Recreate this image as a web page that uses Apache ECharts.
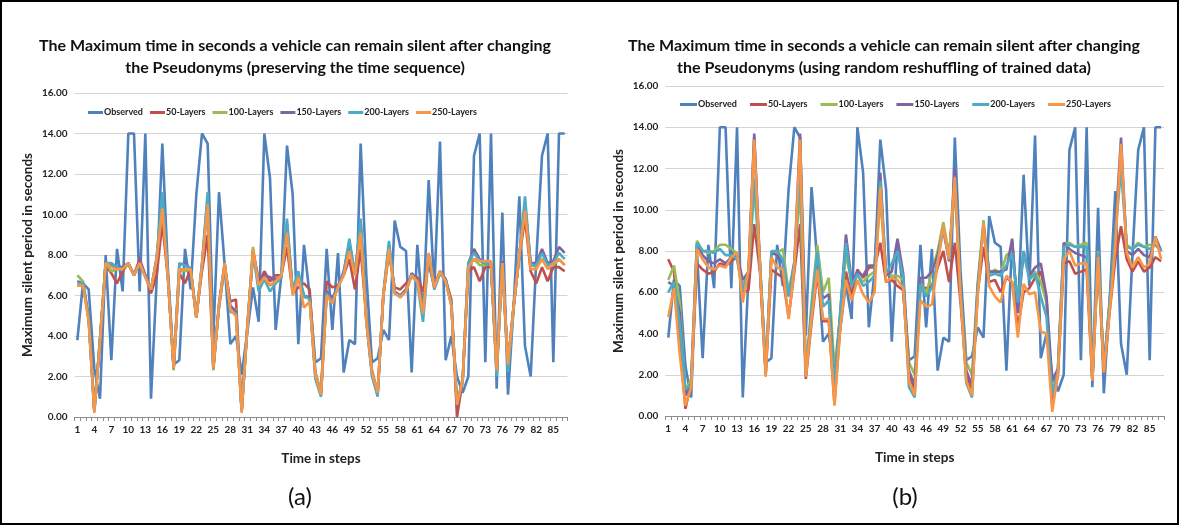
<!DOCTYPE html>
<html><head><meta charset="utf-8">
<script src="https://cdn.jsdelivr.net/npm/echarts@6/dist/echarts.min.js"></script>
<style>html,body{margin:0;padding:0;background:#fff}#c{width:1180px;height:526px}</style>
</head><body><div id="c"></div>
<script>
const steps = ['1','2','3','4','5','6','7','8','9','10','11','12','13','14','15','16','17','18','19','20','21','22','23','24','25','26','27','28','29','30','31','32','33','34','35','36','37','38','39','40','41','42','43','44','45','46','47','48','49','50','51','52','53','54','55','56','57','58','59','60','61','62','63','64','65','66','67','68','69','70','71','72','73','74','75','76','77','78','79','80','81','82','83','84','85','86','87'];
const yTicks = [0,2,4,6,8,10,12,14,16];
const seriesNames = ['Observed','50-Layers','100-Layers','150-Layers','200-Layers','250-Layers'];

const observed = [3.8,6.6,6.3,2.4,0.9,8.0,2.8,8.3,6.2,14,14,6.2,14,0.9,6.8,13.5,7.2,2.6,2.8,8.3,6.3,11.0,14,13.5,3.9,11.1,7.5,3.6,4.0,2.1,4.2,6.4,4.7,14,11.8,4.3,7.0,13.4,11.0,3.6,8.5,6.0,2.7,2.9,8.3,4.3,8.1,2.2,3.8,3.6,13.5,7.0,2.7,2.9,4.3,3.8,9.7,8.4,8.2,2.2,8.5,5.0,11.7,6.3,13.6,2.8,4.0,2.0,1.2,2.0,12.9,14,2.7,14,1.4,10.1,1.1,5.5,10.9,3.5,2.0,7.8,12.9,14,2.7,14,14];

// Panel (a): preserving the time sequence
const a50 = [6.5,6.5,4.9,0.3,3.8,7.5,7.1,6.6,7.2,7.6,7.0,7.8,7.0,6.1,7.0,9.6,6.8,2.5,7.1,6.6,7.3,5.0,7.2,9.0,2.5,5.4,7.4,5.7,5.8,0.3,4.5,8.0,6.6,7.2,6.7,7.0,7.0,8.4,6.1,6.4,6.6,6.3,2.2,1.2,6.7,6.4,6.5,7.0,7.8,6.3,8.3,4.9,2.3,1.2,6.0,8.1,6.4,6.3,6.6,6.9,6.9,6.2,7.6,6.4,7.1,6.8,5.8,0.0,1.8,7.2,7.4,6.7,7.4,7.4,2.4,7.5,2.7,5.5,7.9,9.8,7.2,6.6,7.4,6.7,7.4,7.4,7.2];
const a100 = [7.0,6.7,5.0,0.4,3.9,7.6,7.2,7.3,7.4,7.5,7.1,7.6,7.0,6.3,7.8,10.6,6.9,2.3,7.2,7.2,7.3,4.9,7.5,10.7,2.3,5.5,7.5,5.4,5.3,0.3,4.5,8.4,6.4,6.8,6.5,6.6,6.9,9.4,6.2,6.9,5.9,5.9,2.2,1.2,6.2,5.8,6.4,7.1,8.4,7.1,9.5,4.8,2.2,1.2,6.0,8.4,6.1,6.0,6.3,7.0,6.8,5.3,8.0,6.5,7.2,6.8,5.6,0.7,1.9,7.5,7.8,7.5,7.5,7.6,2.2,7.6,2.5,5.4,8.0,10.5,7.5,7.4,7.8,7.4,7.5,7.8,7.5];
const a150 = [6.7,6.6,4.9,0.3,3.8,7.6,7.5,7.4,7.4,7.6,7.0,7.7,7.0,6.3,7.8,10.8,6.9,2.4,7.5,7.6,7.3,4.9,7.5,10.8,2.4,5.6,7.6,5.5,5.2,0.3,4.4,8.2,6.8,7.0,6.9,6.8,7.0,9.5,6.3,7.0,6.0,5.9,2.0,1.1,6.2,5.9,6.4,7.2,8.6,7.1,9.6,4.8,2.1,1.1,6.0,8.5,6.2,6.0,6.3,7.1,6.8,5.2,8.0,6.5,7.2,6.8,5.6,0.5,1.8,7.6,8.3,7.8,7.6,7.6,2.3,7.7,2.6,5.5,8.0,10.5,7.6,7.6,8.3,7.6,7.7,8.4,8.1];
const a200 = [6.6,6.6,4.8,0.3,3.8,7.6,7.6,7.4,7.3,7.6,7.0,7.6,6.9,6.3,7.9,11.1,6.9,2.4,7.6,7.5,7.3,4.9,7.6,11.1,2.4,5.5,7.6,5.2,5.1,0.3,4.4,8.1,6.2,6.8,6.2,6.6,6.9,9.8,6.2,7.2,6.0,5.8,1.9,1.0,6.1,5.7,6.4,7.1,8.8,7.0,9.8,4.7,2.0,1.0,6.1,8.7,6.1,6.0,6.2,7.0,6.6,4.7,8.0,6.3,7.1,6.7,5.5,0.8,1.7,7.6,8.1,7.7,7.6,7.6,2.0,7.6,2.2,5.4,8.0,10.9,7.5,7.5,8.1,7.5,7.6,8.1,7.8];
const a250 = [6.5,6.5,4.7,0.2,3.7,7.6,7.4,7.3,7.3,7.6,7.0,7.6,6.9,6.3,7.8,10.3,6.8,2.4,7.3,7.3,7.3,4.9,7.5,10.5,2.4,5.5,7.6,5.3,5.0,0.2,4.4,8.3,6.5,6.9,6.5,6.7,7.0,9.1,6.0,6.9,5.4,5.7,2.1,1.1,6.0,5.6,6.4,7.0,8.2,7.0,9.1,4.7,2.2,1.2,6.0,8.3,6.1,5.9,6.2,7.0,6.7,5.1,8.1,6.4,7.2,6.7,5.5,0.6,1.8,7.4,7.8,7.7,7.7,7.7,2.3,7.6,2.6,5.5,8.0,10.2,7.3,7.3,7.8,7.3,7.6,7.8,7.5];

// Panel (b): random reshuffling of trained data
const b50 = [7.6,7.0,3.5,0.35,1.6,7.4,7.1,6.9,7.0,7.4,7.3,7.5,7.7,6.0,6.1,9.3,7.0,2.0,7.1,6.9,6.7,4.8,7.0,9.3,1.8,4.5,6.9,4.6,4.6,0.6,4.3,7.0,5.8,7.1,6.7,7.2,7.2,8.4,6.5,6.6,6.3,6.1,2.0,1.3,6.2,6.2,6.3,7.2,8.0,6.5,8.4,5.5,2.0,1.3,6.0,8.2,6.5,6.6,6.0,6.7,6.5,4.3,6.0,6.2,6.7,7.0,5.7,0.5,2.0,7.4,7.5,6.9,7.0,7.1,1.7,7.6,2.1,5.0,7.6,9.2,7.6,7.0,7.5,7.0,7.2,7.7,7.5];
const b100 = [6.6,7.3,5.5,1.2,1.8,8.5,8.0,7.9,8.0,8.3,8.3,8.1,7.9,6.3,7.0,11.0,7.5,2.2,7.9,7.9,8.1,6.0,7.5,11.0,2.0,5.5,8.3,6.0,6.7,2.3,4.8,7.9,6.4,6.8,6.5,6.8,7.0,10.5,7.0,6.8,6.8,6.6,2.6,2.0,6.5,5.9,7.0,8.0,9.4,7.8,11.0,6.0,2.6,2.0,6.5,9.5,6.9,7.1,6.9,7.8,8.0,5.5,7.8,6.8,7.0,6.5,5.5,1.0,2.4,8.3,8.4,8.2,8.3,8.4,2.0,8.0,2.4,5.5,9.0,12.5,8.3,8.1,8.4,8.2,8.3,8.3,8.0];
const b150 = [6.5,6.3,5.0,1.0,1.6,8.3,7.8,7.5,7.4,7.6,7.4,7.7,7.8,6.6,7.0,13.7,7.3,2.1,7.9,7.8,7.4,5.8,7.4,13.7,2.0,5.0,7.3,5.7,5.9,1.5,5.0,8.8,6.5,7.0,6.8,7.3,7.3,11.8,6.8,7.0,8.6,6.9,2.2,1.5,6.7,6.7,7.0,7.8,9.0,7.5,12.0,6.0,2.2,1.5,6.3,9.2,7.0,7.0,7.0,7.1,8.6,5.0,8.0,6.8,7.2,7.4,5.8,1.7,2.3,8.4,8.1,7.9,7.8,7.7,1.9,7.9,2.3,5.5,9.0,13.5,8.0,7.8,8.1,7.8,7.7,8.7,8.0];
const b200 = [6.0,6.5,4.5,1.3,1.5,8.4,8.0,8.0,7.9,8.1,7.8,7.8,7.6,6.1,7.0,11.5,7.4,2.1,8.0,8.0,7.6,5.8,7.4,12.0,2.0,5.2,8.0,5.3,5.6,1.4,5.0,8.4,6.3,6.9,6.3,6.5,6.8,11.4,6.9,7.4,8.0,6.7,1.4,0.9,6.4,5.8,6.2,7.5,9.1,7.6,11.5,6.0,1.6,0.9,6.2,9.2,6.8,6.9,6.8,7.3,7.9,5.5,8.0,6.6,6.9,5.8,4.8,1.0,2.2,8.2,8.3,8.2,8.2,8.2,1.8,7.9,2.2,5.4,8.8,12.0,8.2,8.1,8.3,8.2,8.1,8.3,8.0];
const b250 = [4.8,6.2,3.0,0.5,1.4,8.1,7.6,7.2,7.1,7.3,7.2,7.7,7.9,5.5,7.1,13.4,7.2,1.9,7.7,7.2,7.1,4.7,7.2,13.4,1.9,4.7,7.1,4.7,4.7,0.5,4.2,6.6,5.6,6.6,5.9,5.5,6.0,11.1,6.5,6.7,6.6,6.2,1.7,1.0,5.6,5.3,5.4,7.4,9.2,7.6,11.6,5.8,1.7,1.0,5.8,9.3,6.3,5.8,5.5,6.8,6.5,3.8,6.4,5.9,6.0,4.1,4.0,0.2,2.1,7.6,8.0,7.3,7.4,7.4,1.7,7.7,2.1,5.0,8.2,13.2,7.9,7.2,7.7,7.2,7.4,8.7,7.6];

const colors = ['#4F81BD','#C0504D','#9BBB59','#8064A2','#4BACC6','#F79646'];
const FONT = 'Lato';

function mk(name, data, idx, ci) {
  return { name: name, type: 'line', data: data, xAxisIndex: idx, yAxisIndex: idx,
    symbol: 'none', showSymbol: false, animation: false,
    lineStyle: { width: 2.6, color: colors[ci] }, itemStyle: { color: colors[ci] } };
}
function xAx(idx) {
  return { type: 'category', gridIndex: idx, data: steps, boundaryGap: true,
    name: 'Time in steps', nameLocation: 'middle', nameGap: 35,
    nameTextStyle: { fontFamily: FONT, fontWeight: 'bold', fontSize: 13.5, color: '#222' },
    axisLine: { lineStyle: { color: '#8c8c8c', width: 1 } },
    axisTick: { show: true, interval: 0, length: 4, lineStyle: { color: '#8c8c8c' } },
    axisLabel: { interval: 2, fontFamily: FONT, fontWeight: 'bold', fontSize: 10, color: '#222', margin: 8 },
    splitLine: { show: false } };
}
function yAx(idx) {
  return { type: 'value', gridIndex: idx, min: yTicks[0], max: yTicks[yTicks.length-1], interval: 2,
    name: 'Maximum silent period in seconds', nameLocation: 'middle', nameGap: 40,
    nameTextStyle: { fontFamily: FONT, fontWeight: 'bold', fontSize: 13.5, color: '#222' },
    axisLine: { show: false }, axisTick: { show: false },
    axisLabel: { formatter: function (v) { return v.toFixed(2); }, fontFamily: FONT, fontWeight: 'bold', fontSize: 10, color: '#222', margin: 7 },
    splitLine: { lineStyle: { color: '#d4d4d4', width: 1 } } };
}
function legend(left, top, gap, w) {
  return { data: seriesNames, left: left, top: top, itemGap: gap, itemWidth: w, itemHeight: 3, icon: 'rect',
    textStyle: { fontFamily: FONT, fontWeight: 'bold', fontSize: 9, color: '#222', padding: [0,0,0,-4] } };
}
function txt(text, x, y, size, weight) {
  return { type: 'text', x: x, y: y, silent: true,
    style: { text: text, fill: '#111', font: weight + ' ' + size + 'px ' + FONT,
      align: 'center', verticalAlign: 'middle', textAlign: 'center', textVerticalAlign: 'middle' } };
}

const chart = echarts.init(document.getElementById('c'), null, { renderer: 'canvas' });
chart.setOption({
  backgroundColor: '#fff',
  animation: false,
  grid: [
    { left: 74.5, top: 93, width: 493, height: 324 },
    { left: 665.4, top: 86, width: 498.6, height: 330 }
  ],
  xAxis: [xAx(0), xAx(1)],
  yAxis: [yAx(0), yAx(1)],
  legend: [legend(83, 103, 7, 15), legend(675, 95, 13, 17)],
  series: [
    mk('Observed', observed, 0, 0), mk('50-Layers', a50, 0, 1), mk('100-Layers', a100, 0, 2),
    mk('150-Layers', a150, 0, 3), mk('200-Layers', a200, 0, 4), mk('250-Layers', a250, 0, 5),
    mk('Observed', observed, 1, 0), mk('50-Layers', b50, 1, 1), mk('100-Layers', b100, 1, 2),
    mk('150-Layers', b150, 1, 3), mk('200-Layers', b200, 1, 4), mk('250-Layers', b250, 1, 5)
  ],
  graphic: [
    { type: 'rect', shape: { x: 1, y: 1, width: 1177, height: 523 }, style: { fill: 'none', stroke: '#000', lineWidth: 2 }, silent: true },
    txt('The Maximum time in seconds a vehicle can remain silent after changing', 295, 46, 16, 'bold'),
    txt('the Pseudonyms (preserving the time sequence)', 295, 68, 16, 'bold'),
    txt('The Maximum time in seconds a vehicle can remain silent after changing', 884, 46, 16, 'bold'),
    txt('the Pseudonyms (using random reshuffling of trained data)', 884, 68, 16, 'bold'),
    txt('(a)', 300, 497, 24, 'normal'),
    txt('(b)', 905, 497, 24, 'normal')
  ]
});
</script></body></html>
